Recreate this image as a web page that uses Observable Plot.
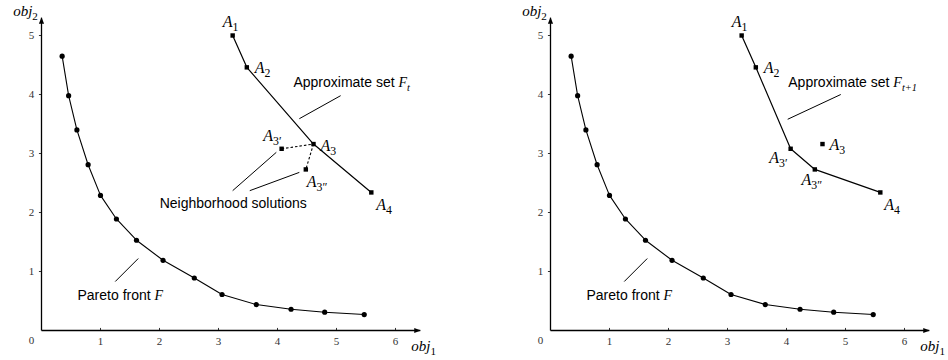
<!DOCTYPE html>
<html>
<head>
<meta charset="utf-8">
<script src="https://cdn.jsdelivr.net/npm/d3@7"></script>
<script src="https://cdn.jsdelivr.net/npm/@observablehq/plot@0.6"></script>
<style>
  html, body { margin: 0; padding: 0; background: #fff; }
  #wrap { display: flex; width: 948px; height: 360px; }
</style>
</head>
<body>
<div id="wrap"></div>
<script>
// ---------- data ----------
const xTicks = [1, 2, 3, 4, 5, 6];
const yTicks = [1, 2, 3, 4, 5];
const paretoX = [0.35, 0.46, 0.60, 0.79, 1.00, 1.27, 1.61, 2.06, 2.59, 3.06, 3.64, 4.23, 4.80, 5.47];
const paretoY = [4.65, 3.98, 3.40, 2.81, 2.29, 1.89, 1.53, 1.19, 0.89, 0.61, 0.44, 0.36, 0.31, 0.27];
const solIds = ["A1", "A2", "A3", "A4", "A3p", "A3pp"];
const solLabels = ["$A_1$", "$A_2$", "$A_3$", "$A_4$", "$A_{3′}$", "$A_{3″}$"];
const solX = [3.24, 3.48, 4.61, 5.59, 4.07, 4.48];
const solY = [5.00, 4.46, 3.16, 2.34, 3.08, 2.73];
const setT = ["A1", "A2", "A3", "A4"];
const setT1 = ["A1", "A2", "A3p", "A3pp", "A4"];
const neighborLinks = [["A3p", "A3"], ["A3", "A3pp"]];
const axisLabels = ["$obj_1$", "$obj_2$"];
const textApproxT = "Approximate set $F_t$";
const textApproxT1 = "Approximate set $F_{t+1}$";
const textNeighbor = "Neighborhood solutions";
const textPareto = "Pareto front $F$";

// ---------- helpers ----------
const SANS = "'Liberation Sans', Arial, sans-serif";
const SERIF = "'Liberation Serif', 'Times New Roman', serif";
const pareto = paretoX.map((x, i) => ({x, y: paretoY[i]}));
const sols = solIds.map((id, i) => ({id, label: solLabels[i], x: solX[i], y: solY[i]}));
const byId = Object.fromEntries(sols.map(d => [d.id, d]));

const triUp = {draw(c) { c.moveTo(0, -3.5); c.lineTo(-2.6, 3); c.lineTo(2.6, 3); c.closePath(); }};
const triRight = {draw(c) { c.moveTo(3.5, 0); c.lineTo(-3, -2.6); c.lineTo(-3, 2.6); c.closePath(); }};

function richify(svg) {
  d3.select(svg).selectAll("text").each(function () {
    const s = this.textContent;
    if (!s.includes("$")) return;
    const el = d3.select(this);
    el.text(null);
    let shift = 0;
    function add(txt, math, sub) {
      const target = sub ? 4 : 0;
      const t = el.append("tspan").text(txt);
      if (target !== shift) { t.attr("dy", target - shift); shift = target; }
      const italic = math && /[A-Za-z]/.test(txt);
      t.attr("font-family", math ? SERIF : SANS).attr("font-style", italic ? "italic" : "normal");
      if (sub) t.attr("font-size", "0.74em");
    }
    s.split("$").forEach((part, i) => {
      if (!part) return;
      if (i % 2 === 0) add(part, false, false);
      else {
        const re = /_\{([^}]*)\}|_(.)|([^_]+)/g;
        let m;
        while ((m = re.exec(part))) {
          if (m[3] !== undefined) add(m[3], true, false);
          else add(m[1] !== undefined ? m[1] : m[2], true, true);
        }
      }
    });
  });
}

function labelMarks(offsets) {
  return sols.map(d => {
    const o = offsets[d.id];
    return Plot.text([d], {x: "x", y: "y", text: "label", dx: o[1], dy: o[2], textAnchor: o[0],
      fontFamily: SERIF, fontSize: 16, fill: "#000"});
  });
}

function panel(cfg) {
  const plot = Plot.plot({
    width: 474, height: 360,
    marginLeft: cfg.ml, marginRight: 474 - cfg.ml - 354, marginTop: 35, marginBottom: 30,
    x: {domain: [0, 6], axis: null},
    y: {domain: [0, 5], axis: null},
    style: {background: "#fff", overflow: "visible"},
    marks: [
      // axes
      Plot.link([0], {x1: 0, y1: 0, x2: 6.42, y2: 0, stroke: "#000", strokeWidth: 1.3}),
      Plot.link([0], {x1: 0, y1: 0, x2: 0, y2: 5.3, stroke: "#000", strokeWidth: 1.3}),
      Plot.dot([0], {x: 6.42, y: 0, dx: -3, symbol: triRight, fill: "#000", stroke: null}),
      Plot.dot([0], {x: 0, y: 5.3, dy: 3, symbol: triUp, fill: "#000", stroke: null}),
      Plot.ruleX(xTicks, {x: d => d, y1: 0, y2: 0.035, stroke: "#000", strokeWidth: 0.8}),
      Plot.ruleY(yTicks, {y: d => d, x1: -0.035, x2: 0, stroke: "#000", strokeWidth: 0.8}),
      Plot.text(xTicks, {x: d => d, y: 0, dy: 11, text: d => String(d), fontFamily: SERIF, fontSize: 11, fill: "#333"}),
      Plot.text(yTicks, {x: 0, y: d => d, dx: -10, text: d => String(d), fontFamily: SERIF, fontSize: 11, fill: "#333"}),
      Plot.text([0], {x: 0, y: 0, dx: -10, dy: 10, text: d => String(d), fontFamily: SERIF, fontSize: 11, fill: "#333"}),
      Plot.text([axisLabels[0]], {x: 6.42, y: 0, dx: -9, dy: 16, text: d => d, textAnchor: "start", fontFamily: SERIF, fontSize: 15, fill: "#000"}),
      Plot.text([axisLabels[1]], {x: 0, y: 5.3, dx: -16, dy: -7, text: d => d, fontFamily: SERIF, fontSize: 15, fill: "#000"}),
      // Pareto front
      Plot.line(pareto, {x: "x", y: "y", stroke: "#000", strokeWidth: 1.1}),
      Plot.dot(pareto, {x: "x", y: "y", r: 2.6, fill: "#000", stroke: null}),
      Plot.link([0], {x1: 1.64, y1: 1.22, x2: 1.25, y2: 0.83, stroke: "#000", strokeWidth: 1}),
      Plot.text([textPareto], {x: 0.61, y: 0.59, text: d => d, textAnchor: "start", fontFamily: SANS, fontSize: 14, fill: "#000"}),
      // approximate set
      Plot.line(cfg.front.map(id => byId[id]), {x: "x", y: "y", stroke: "#000", strokeWidth: 1.2}),
      ...(cfg.dashed ? [Plot.link(neighborLinks, {x1: d => byId[d[0]].x, y1: d => byId[d[0]].y,
          x2: d => byId[d[1]].x, y2: d => byId[d[1]].y, stroke: "#000", strokeWidth: 1.1, strokeDasharray: "2.5,2"})] : []),
      Plot.dot(sols, {x: "x", y: "y", r: 2.5, symbol: "square", fill: "#000", stroke: null}),
      ...labelMarks(cfg.offsets),
      Plot.link([0], {x1: cfg.lead[0], y1: cfg.lead[1], x2: cfg.lead[2], y2: cfg.lead[3], stroke: "#000", strokeWidth: 1}),
      Plot.text([cfg.approx], {x: cfg.lead[4], y: 4.2, text: d => d, textAnchor: "start", fontFamily: SANS, fontSize: 14, fill: "#000"}),
      ...(cfg.dashed ? [
        Plot.link([0], {x1: 3.98, y1: 3.02, x2: 3.24, y2: 2.37, stroke: "#000", strokeWidth: 1}),
        Plot.link([0], {x1: 4.37, y1: 2.68, x2: 3.53, y2: 2.37, stroke: "#000", strokeWidth: 1}),
        Plot.text([textNeighbor], {x: 3.25, y: 2.15, text: d => d, fontFamily: SANS, fontSize: 14, fill: "#000"})
      ] : [])
    ]
  });
  richify(plot);
  return plot;
}

const wrap = document.getElementById("wrap");
wrap.appendChild(panel({
  ml: 41, front: setT, dashed: true, approx: textApproxT,
  lead: [5.07, 3.98, 4.37, 3.59, 4.27],
  offsets: {A1: ["middle", -2, -14], A2: ["start", 8, 1], A3: ["start", 7, 2], A4: ["start", 5, 12],
            A3p: ["end", 0, -13], A3pp: ["start", 1, 12]}
}));
wrap.appendChild(panel({
  ml: 76, front: setT1, dashed: false, approx: textApproxT1,
  lead: [4.92, 4.0, 4.02, 3.58, 4.03],
  offsets: {A1: ["middle", -2, -14], A2: ["start", 8, 1], A3: ["start", 7, 1], A4: ["start", 4, 12],
            A3p: ["end", -3, 9], A3pp: ["middle", -3, 10]}
}));
</script>
</body>
</html>
